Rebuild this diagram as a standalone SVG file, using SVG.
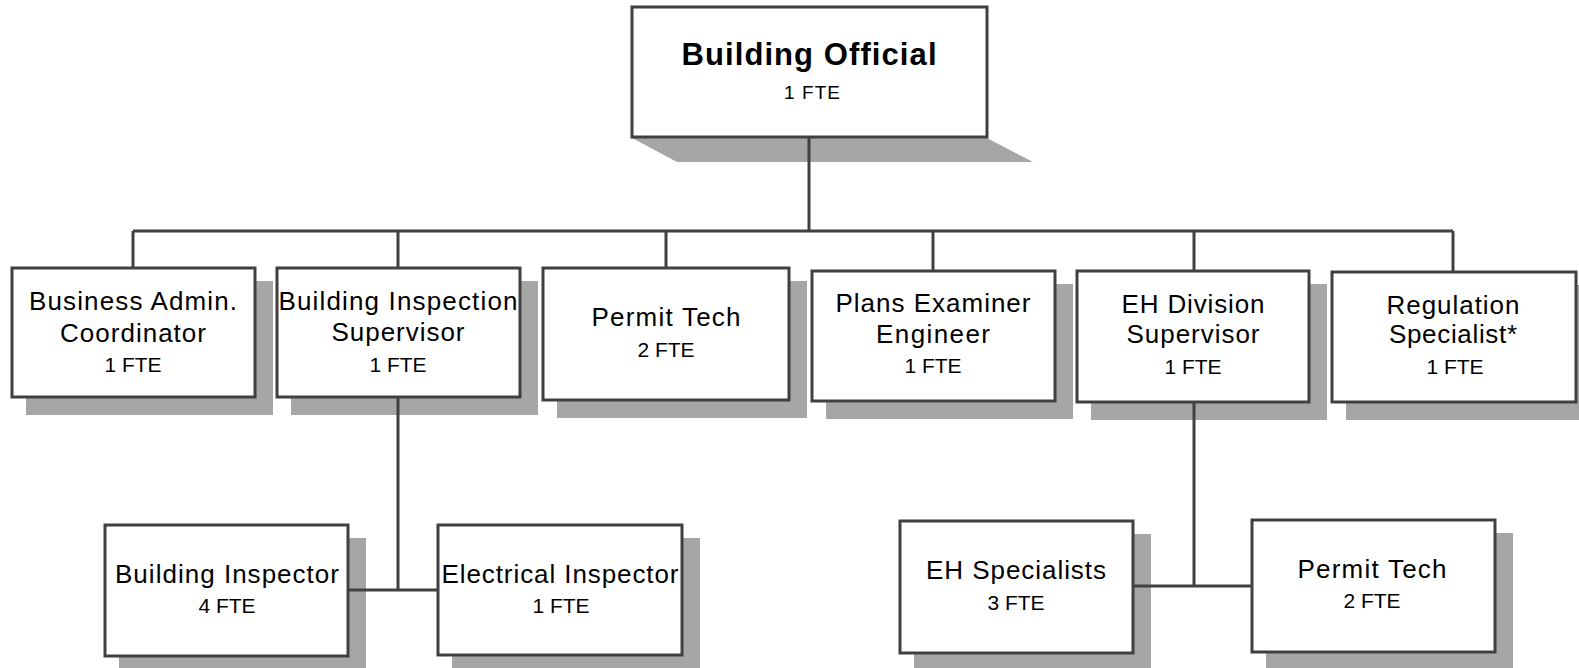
<svg xmlns="http://www.w3.org/2000/svg" width="1579" height="668" viewBox="0 0 1579 668">
  <style>
    .box { fill: #ffffff; stroke: #404040; stroke-width: 3; }
    .shadow { fill: #a6a6a6; }
    .wire { fill: none; stroke: #404040; stroke-width: 3; }
    text { font-family: "Liberation Sans", Arial, sans-serif; fill: #000000; text-anchor: middle; }
    .title { font-size: 31px; font-weight: bold; }
    .label { font-size: 26px; }
    .fte { font-size: 21px; }
    .fte-top { font-size: 19px; }
  </style>
  <rect width="1579" height="668" fill="#ffffff"/>

  <!-- drop shadows -->
  <g id="shadows">
    <polygon class="shadow" points="632,138 987,138 1033,162 677,162"/>
    <rect class="shadow" x="26" y="281" width="247" height="134"/>
    <rect class="shadow" x="291" y="281" width="247" height="134"/>
    <rect class="shadow" x="557" y="281" width="250" height="137"/>
    <rect class="shadow" x="826" y="284" width="247" height="135"/>
    <rect class="shadow" x="1091" y="284" width="236" height="136"/>
    <rect class="shadow" x="1346" y="285" width="248" height="135"/>
    <rect class="shadow" x="119" y="538" width="247" height="136"/>
    <rect class="shadow" x="452" y="538" width="248" height="135"/>
    <rect class="shadow" x="914" y="534" width="237" height="137"/>
    <rect class="shadow" x="1266" y="533" width="247" height="137"/>
  </g>

  <!-- reporting lines -->
  <g id="connectors">
    <line class="wire" x1="809" y1="137" x2="809" y2="231"/>
    <line class="wire" x1="133" y1="231" x2="1453" y2="231"/>
    <line class="wire" x1="133" y1="231" x2="133" y2="268"/>
    <line class="wire" x1="398" y1="231" x2="398" y2="268"/>
    <line class="wire" x1="666" y1="231" x2="666" y2="268"/>
    <line class="wire" x1="933" y1="231" x2="933" y2="271"/>
    <line class="wire" x1="1194" y1="231" x2="1194" y2="271"/>
    <line class="wire" x1="1453" y1="231" x2="1453" y2="272"/>
    <line class="wire" x1="398" y1="397" x2="398" y2="590"/>
    <line class="wire" x1="348" y1="590" x2="438" y2="590"/>
    <line class="wire" x1="1194" y1="402" x2="1194" y2="586"/>
    <line class="wire" x1="1133" y1="586" x2="1252" y2="586"/>
  </g>

  <g id="building-official">
    <rect class="box" x="632" y="7" width="355" height="130"/>
    <text class="title" x="809" y="65" textLength="255">Building Official</text>
    <text class="fte-top" x="812" y="99" textLength="56">1 FTE</text>
  </g>

  <g id="business-admin-coordinator">
    <rect class="box" x="12" y="268" width="243" height="129"/>
    <text class="label" x="133" y="310" textLength="208">Business Admin.</text>
    <text class="label" x="133" y="341.5" textLength="146">Coordinator</text>
    <text class="fte" x="133" y="371.5">1 FTE</text>
  </g>

  <g id="building-inspection-supervisor">
    <rect class="box" x="277" y="268" width="243" height="129"/>
    <text class="label" x="398" y="310" textLength="239">Building Inspection</text>
    <text class="label" x="398" y="340.7" textLength="133">Supervisor</text>
    <text class="fte" x="398" y="371.7">1 FTE</text>
  </g>

  <g id="permit-tech">
    <rect class="box" x="543" y="268" width="246" height="132"/>
    <text class="label" x="666" y="326" textLength="149">Permit Tech</text>
    <text class="fte" x="666" y="356.7">2 FTE</text>
  </g>

  <g id="plans-examiner-engineer">
    <rect class="box" x="812" y="271" width="243" height="130"/>
    <text class="label" x="933" y="311.7" textLength="195">Plans Examiner</text>
    <text class="label" x="933" y="342.7" textLength="114">Engineer</text>
    <text class="fte" x="933" y="373.3">1 FTE</text>
  </g>

  <g id="eh-division-supervisor">
    <rect class="box" x="1077" y="271" width="232" height="131"/>
    <text class="label" x="1193" y="313.3" textLength="143">EH Division</text>
    <text class="label" x="1193" y="343.3" textLength="133">Supervisor</text>
    <text class="fte" x="1193" y="374.3">1 FTE</text>
  </g>

  <g id="regulation-specialist">
    <rect class="box" x="1332" y="272" width="244" height="130"/>
    <text class="label" x="1453" y="314" textLength="133">Regulation</text>
    <text class="label" x="1453" y="343.3" textLength="128">Specialist*</text>
    <text class="fte" x="1455" y="374.3">1 FTE</text>
  </g>

  <g id="building-inspector">
    <rect class="box" x="105" y="525" width="243" height="131"/>
    <text class="label" x="227" y="582.7" textLength="224">Building Inspector</text>
    <text class="fte" x="227" y="613.3">4 FTE</text>
  </g>

  <g id="electrical-inspector">
    <rect class="box" x="438" y="525" width="244" height="130"/>
    <text class="label" x="560" y="583.3" textLength="237">Electrical Inspector</text>
    <text class="fte" x="561" y="613.3">1 FTE</text>
  </g>

  <g id="eh-specialists">
    <rect class="box" x="900" y="521" width="233" height="132"/>
    <text class="label" x="1016" y="579.3" textLength="180">EH Specialists</text>
    <text class="fte" x="1016" y="610">3 FTE</text>
  </g>

  <g id="permit-tech-eh">
    <rect class="box" x="1252" y="520" width="243" height="132"/>
    <text class="label" x="1372" y="577.7" textLength="149">Permit Tech</text>
    <text class="fte" x="1372" y="608.3">2 FTE</text>
  </g>
</svg>
